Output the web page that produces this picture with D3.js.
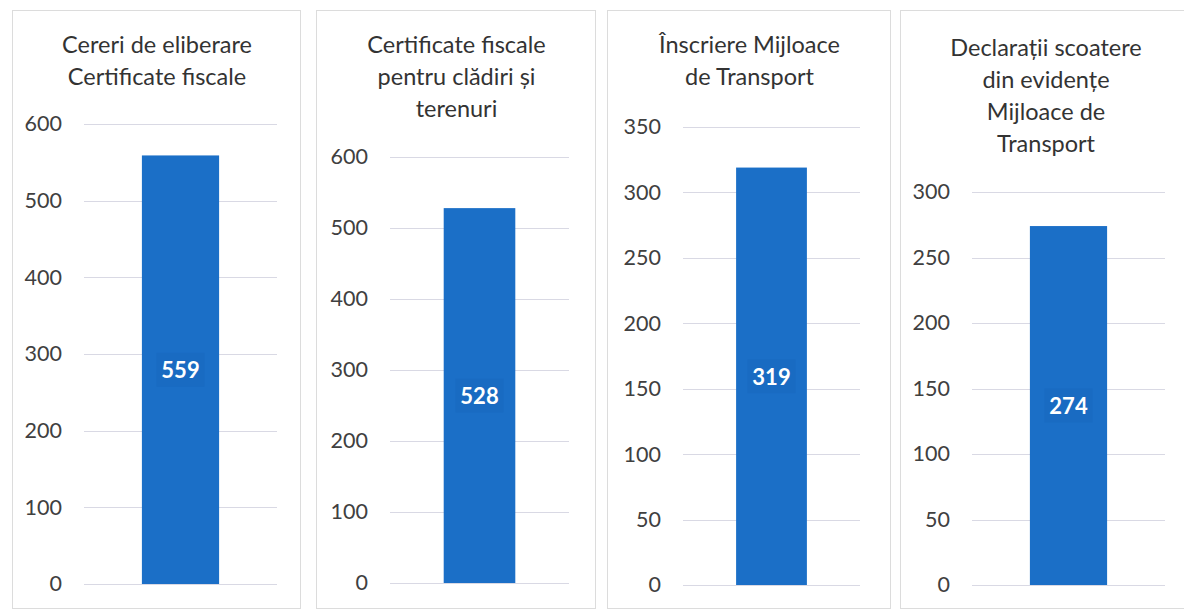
<!DOCTYPE html>
<html><head><meta charset="utf-8">
<script src="https://cdn.jsdelivr.net/npm/d3@7"></script>
<style>body{margin:0;background:#fff;} svg{display:block;}</style>
</head><body>
<svg id="c" width="1184" height="612"></svg>
<script>
const titles = [
  ["Cereri de eliberare", "Certificate fiscale"],
  ["Certificate fiscale", "pentru clădiri și", "terenuri"],
  ["Înscriere Mijloace", "de Transport"],
  ["Declarații scoatere", "din evidențe", "Mijloace de", "Transport"]
];
const values = [559, 528, 319, 274];
const yMax = [600, 600, 350, 300];
const tickStep = [100, 100, 50, 50];

// layout (pixels)
const panels = [
  {x0: 12, x1: 300, pl: 84, pr: 277, top: 124, bottom: 584, titleY: 47},
  {x0: 316, x1: 595, pl: 390, pr: 569, top: 157, bottom: 583, titleY: 47},
  {x0: 607, x1: 890, pl: 683, pr: 860, top: 127, bottom: 585, titleY: 47},
  {x0: 900, x1: 1190, pl: 972, pr: 1165, top: 192, bottom: 585, titleY: 50}
];
const font = "Lato, 'Open Sans', sans-serif";
const barColor = "#1b6fc7";
const svg = d3.select("#c");

panels.forEach((p, i) => {
  const g = svg.append("g");
  g.append("rect").attr("x", p.x0 + 0.5).attr("y", 10.5)
    .attr("width", p.x1 - p.x0).attr("height", 598)
    .attr("fill", "#fff").attr("stroke", "#dcdcdc").attr("stroke-width", 1);

  const cx = (p.x0 + p.x1) / 2 + 1;
  const t = g.append("text").attr("text-anchor", "middle")
    .attr("font-family", font).attr("font-size", 23.5).attr("fill", "#333");
  titles[i].forEach((line, k) => {
    t.append("tspan").attr("x", cx).attr("y", p.titleY + k * 32)
      .attr("dominant-baseline", "middle").text(line);
  });

  const y = d3.scaleLinear().domain([0, yMax[i]]).range([p.bottom, p.top]);
  const x = d3.scaleBand().domain(["a"]).range([p.pl, p.pr]).paddingInner(0).paddingOuter(0.75);
  const ticks = d3.range(0, yMax[i] + 1, tickStep[i]);

  g.selectAll(".grid").data(ticks).enter().append("line")
    .attr("x1", p.pl).attr("x2", p.pr)
    .attr("y1", d => Math.round(y(d)) + 0.5).attr("y2", d => Math.round(y(d)) + 0.5)
    .attr("stroke", "#d9d9e4").attr("stroke-width", 1);

  const axis = d3.axisLeft(y).tickValues(ticks).tickSize(0).tickPadding(22);
  const ag = g.append("g").attr("transform", `translate(${p.pl},0)`).call(axis);
  ag.select(".domain").remove();
  ag.selectAll("text").attr("font-family", font).attr("font-size", 21.5).attr("fill", "#404040");

  g.append("rect").attr("x", x("a")).attr("width", x.bandwidth())
    .attr("y", y(values[i])).attr("height", p.bottom - y(values[i]))
    .attr("fill", barColor);

  const my = (y(values[i]) + p.bottom) / 2;
  g.append("rect").attr("x", x("a") + x.bandwidth()/2 - 24).attr("y", my - 17)
    .attr("width", 48).attr("height", 34).attr("fill", "#196bc2");
  g.append("text").attr("x", x("a") + x.bandwidth() / 2).attr("y", my)
    .attr("text-anchor", "middle").attr("dominant-baseline", "central")
    .attr("font-family", font).attr("font-weight", "bold").attr("font-size", 22)
    .attr("fill", "#fff").text(values[i]);
});
</script>
</body></html>
